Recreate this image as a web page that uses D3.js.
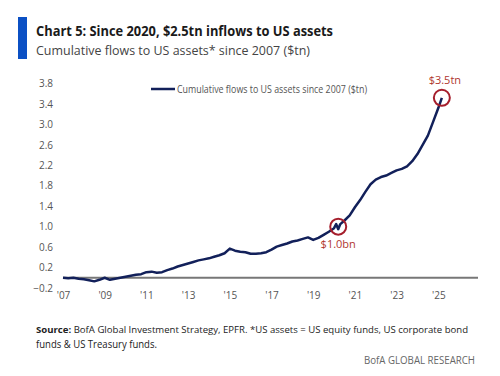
<!DOCTYPE html>
<meta charset="utf-8">
<title>Chart 5 - Cumulative flows to US assets</title>
<script src="https://d3js.org/d3.v7.min.js"></script>
<style>
  body { margin: 0; background: #fff; }
  text { font-family: "Open Sans", "Noto Sans", sans-serif; }
</style>
<div id="chart"></div>
<script>
  // cumulative flows ($tn)
  const years = [
    2007.0, 2007.25, 2007.5, 2007.75, 2008.0, 2008.25, 2008.5, 2008.75,
    2009.0, 2009.25, 2009.5, 2009.75, 2010.0, 2010.25, 2010.5, 2010.75,
    2011.0, 2011.25, 2011.5, 2011.75, 2012.0, 2012.25, 2012.5, 2012.75,
    2013.0, 2013.25, 2013.5, 2013.75, 2014.0, 2014.25, 2014.5, 2014.75,
    2015.0, 2015.25, 2015.5, 2015.75, 2016.0, 2016.25, 2016.5, 2016.75,
    2017.0, 2017.25, 2017.5, 2017.75, 2018.0, 2018.25, 2018.5, 2018.75,
    2019.0, 2019.25, 2019.5, 2019.75, 2020.0, 2020.1, 2020.2, 2020.3,
    2020.5, 2020.75, 2021.0, 2021.25, 2021.5, 2021.75, 2022.0, 2022.25,
    2022.5, 2022.75, 2023.0, 2023.25, 2023.5, 2023.75, 2024.0, 2024.25,
    2024.5, 2024.75, 2025.0, 2025.17
  ];
  const flows = [
    0.0, -0.01, 0.0, -0.02, -0.03, -0.05, -0.07, -0.04,
    0.0, -0.04, -0.02, 0.0, 0.02, 0.04, 0.06, 0.07,
    0.11, 0.12, 0.1, 0.11, 0.15, 0.18, 0.22, 0.25,
    0.28, 0.31, 0.34, 0.36, 0.38, 0.41, 0.44, 0.48,
    0.57, 0.53, 0.51, 0.5, 0.47, 0.47, 0.48, 0.5,
    0.55, 0.61, 0.64, 0.67, 0.71, 0.73, 0.76, 0.79,
    0.74, 0.78, 0.84, 0.9, 0.97, 1.05, 0.95, 1.05,
    1.12, 1.22, 1.38, 1.52, 1.68, 1.83, 1.92, 1.97,
    2.0, 2.05, 2.1, 2.13, 2.18, 2.28, 2.42, 2.6,
    2.78, 3.05, 3.32, 3.52
  ];
  const yTicks = [-0.2, 0.2, 0.6, 1.0, 1.4, 1.8, 2.2, 2.6, 3.0, 3.4, 3.8];
  const xTicks = [2007, 2009, 2011, 2013, 2015, 2017, 2019, 2021, 2023, 2025];
  const callouts = [
    { year: 2020.2, value: 1.0, label: "$1.0bn", pos: "below" },
    { year: 2025.17, value: 3.52, label: "$3.5tn", pos: "above" }
  ];

  const data = years.map((y, i) => ({ year: y, value: flows[i] }));

  const W = 500, H = 376;
  const svg = d3.select("#chart").append("svg")
    .attr("width", W)
    .attr("height", H);

  const x = d3.scaleLinear().domain([2007, 2027]).range([63, 480]);
  const y = d3.scaleLinear().domain([-0.2, 3.8]).range([288, 83.5]);

  // header
  svg.append("rect")
    .attr("x", 18).attr("y", 17)
    .attr("width", 9).attr("height", 42)
    .attr("fill", "#0b50c4");

  svg.append("text")
    .attr("x", 36).attr("y", 36)
    .attr("textLength", 297)
    .attr("lengthAdjust", "spacingAndGlyphs")
    .style("font-size", "14px")
    .style("font-weight", "bold")
    .style("fill", "#1a1a1a")
    .text("Chart 5: Since 2020, $2.5tn inflows to US assets");

  svg.append("text")
    .attr("x", 36).attr("y", 54.5)
    .attr("textLength", 274)
    .attr("lengthAdjust", "spacingAndGlyphs")
    .style("font-size", "13px")
    .style("fill", "#444")
    .text("Cumulative flows to US assets* since 2007 ($tn)");

  // y labels (no axis line)
  const yAxis = svg.append("g")
    .attr("transform", "translate(53,0)")
    .call(d3.axisLeft(y).tickValues(yTicks).tickSize(0).tickPadding(0)
      .tickFormat(d3.format(".1f")));
  yAxis.select(".domain").remove();
  yAxis.selectAll("text")
    .style("font-size", "10px")
    .style("fill", "#555")
    .style("font-family", "'Open Sans', sans-serif");

  // zero line
  svg.append("line")
    .attr("x1", x(2007)).attr("x2", 478)
    .attr("y1", y(0)).attr("y2", y(0))
    .attr("stroke", "#777")
    .attr("stroke-width", 2);

  // x labels
  const xAxis = svg.append("g")
    .attr("transform", "translate(0,292)")
    .call(d3.axisBottom(x).tickValues(xTicks).tickSize(0).tickPadding(0)
      .tickFormat(d => "'" + String(d).slice(2)));
  xAxis.select(".domain").remove();
  xAxis.selectAll("text")
    .style("font-size", "10px")
    .style("fill", "#555")
    .style("font-family", "'Open Sans', sans-serif");

  // series
  const line = d3.line()
    .x(d => x(d.year))
    .y(d => y(d.value));

  svg.append("path")
    .datum(data)
    .attr("fill", "none")
    .attr("stroke", "#12205a")
    .attr("stroke-width", 2.5)
    .attr("stroke-linejoin", "round")
    .attr("d", line);

  // callouts
  callouts.forEach(c => {
    svg.append("circle")
      .attr("cx", x(c.year)).attr("cy", y(c.value))
      .attr("r", 8)
      .attr("fill", "none")
      .attr("stroke", "#a51e2c")
      .attr("stroke-width", 2);
    svg.append("text")
      .attr("x", x(c.year) + (c.pos === "above" ? 3 : 0))
      .attr("y", y(c.value) + (c.pos === "above" ? -14 : 21))
      .attr("text-anchor", "middle")
      .style("font-size", "11px")
      .style("fill", "#b0362f")
      .text(c.label);
  });

  // legend
  svg.append("line")
    .attr("x1", 151).attr("x2", 175)
    .attr("y1", 89).attr("y2", 89)
    .attr("stroke", "#12205a")
    .attr("stroke-width", 2.5);
  svg.append("text")
    .attr("x", 177).attr("y", 92.5)
    .attr("textLength", 190)
    .attr("lengthAdjust", "spacingAndGlyphs")
    .style("font-size", "10px")
    .style("fill", "#555")
    .text("Cumulative flows to US assets since 2007 ($tn)");

  // source
  const src = svg.append("text")
    .attr("x", 36).attr("y", 333)
    .attr("textLength", 432)
    .attr("lengthAdjust", "spacingAndGlyphs")
    .style("font-size", "9.5px")
    .style("fill", "#222");
  src.append("tspan").style("font-weight", "bold").text("Source:");
  src.append("tspan").text(" BofA Global Investment Strategy, EPFR. *US assets = US equity funds, US corporate bond");

  svg.append("text")
    .attr("x", 36).attr("y", 347.5)
    .attr("textLength", 121)
    .attr("lengthAdjust", "spacingAndGlyphs")
    .style("font-size", "10px")
    .style("fill", "#222")
    .text("funds & US Treasury funds.");

  svg.append("text")
    .attr("x", 475).attr("y", 363.5)
    .attr("text-anchor", "end")
    .attr("textLength", 111)
    .attr("lengthAdjust", "spacingAndGlyphs")
    .style("font-size", "11px")
    .style("fill", "#666")
    .text("BofA GLOBAL RESEARCH");
</script>
